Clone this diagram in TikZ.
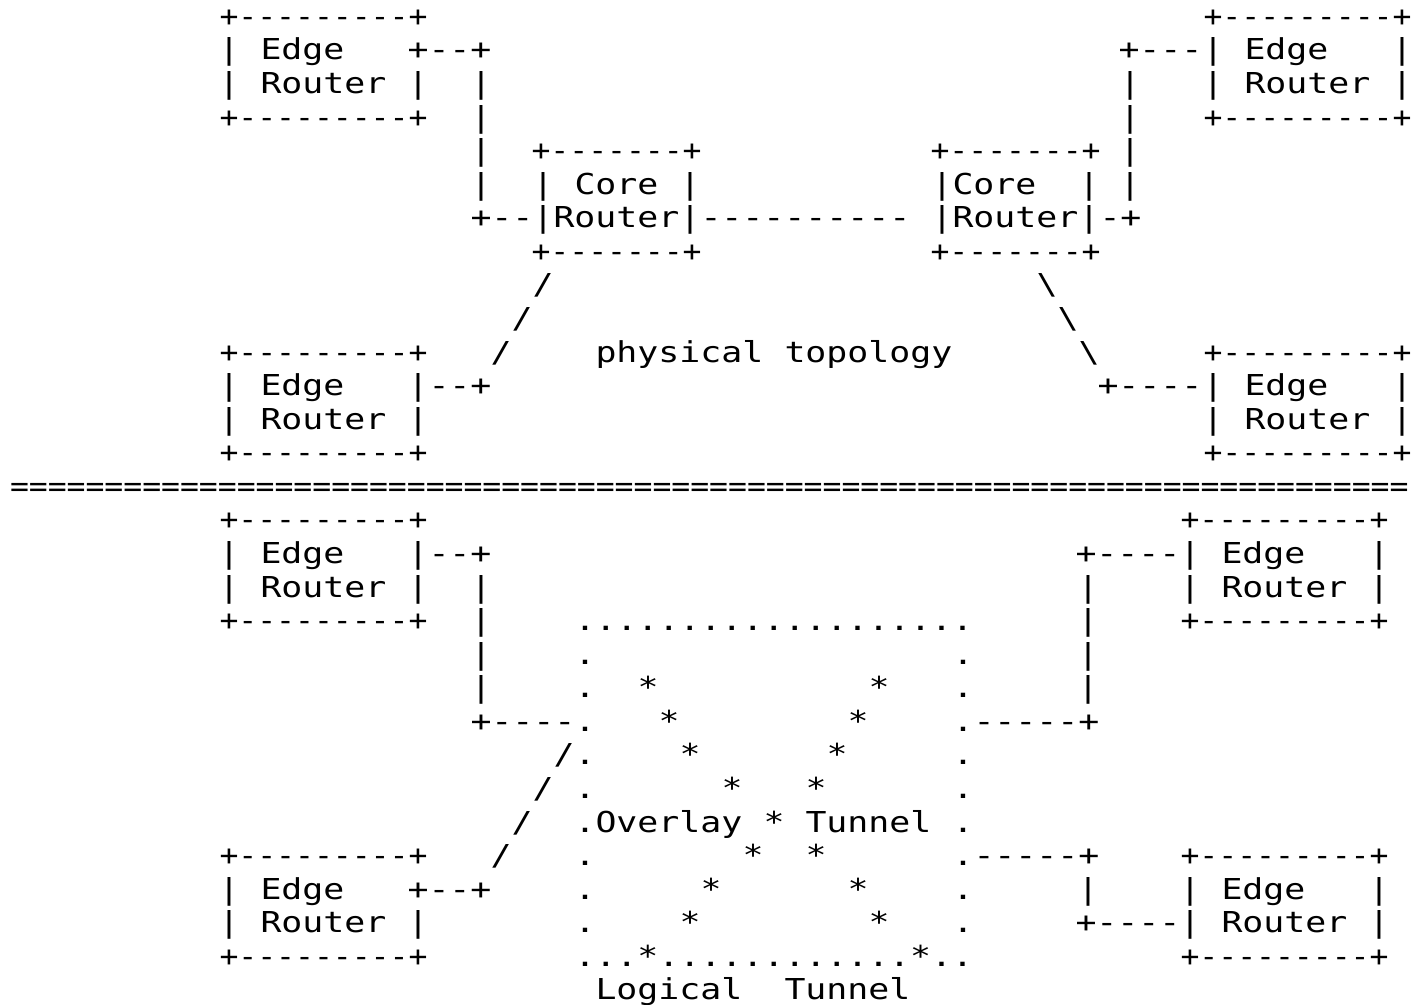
\documentclass[tikz,border=0pt]{standalone}
\usepackage{fontspec}
\newfontfamily\ascfont[FakeStretch=1.21]{DejaVu Sans Mono}
\newfontfamily\brdfont[FakeStretch=1.09]{DejaVu Sans Mono}
% baseline of text row #1
\newcommand\by[1]{26.4+33.57*(#1)}
\tikzset{
  asc/.style={inner sep=0pt, outer sep=0pt, anchor=base west,
    font=\ascfont\fontsize{28.8}{34}\selectfont},
  brd/.style={asc, font=\brdfont\fontsize{28.8}{34}\selectfont},
}
\begin{document}
\begin{tikzpicture}[x=1pt,y=-1pt]
\useasboundingbox (0,0) rectangle (1412,1004);

% edge routers: name/left bar/top row/right char of first line
\foreach \n/\x/\r/\c in {ea/229/0/+, eb/1213/0/|, ec/229/10/|, ed/1213/10/|,
    ee/229/15/|, ef/1190/15/|, eg/229/25/+, eh/1190/25/|} {
  \node[brd] (\n-t) at ({\x-9.45},{\by{\r}}) {+---------+};
  \node[asc] (\n-l1) at ({\x-10.5},{\by{\r+1}}) {|};
  \node[asc] (\n-w1) at ({\x+31.5},{\by{\r+1}}) {Edge};
  \node[asc] (\n-r1) at ({\x+178.5},{\by{\r+1}}) {\c};
  \node[asc] (\n-l2) at ({\x-10.5},{\by{\r+2}}) {|};
  \node[asc] (\n-w2) at ({\x+31.5},{\by{\r+2}}) {Router};
  \node[asc] (\n-r2) at ({\x+178.5},{\by{\r+2}}) {|};
  \node[brd] (\n-b) at ({\x-9.45},{\by{\r+3}}) {+---------+};
}

% core routers: name/left bar/cell of Core
\foreach \n/\x/\k in {ca/543/2, cb/942/1} {
  \node[brd] (\n-t) at ({\x-11.45},{\by{4}}) {+-------+};
  \node[asc] (\n-l1) at ({\x-10.5},{\by{5}}) {|};
  \node[asc] (\n-w1) at ({\x-10.5+21*\k},{\by{5}}) {Core};
  \node[asc] (\n-r1) at ({\x+136.5},{\by{5}}) {|};
  \node[asc] (\n-l2) at ({\x-10.5},{\by{6}}) {|};
  \node[asc] (\n-w2) at ({\x+10.5},{\by{6}}) {Router};
  \node[asc] (\n-r2) at ({\x+136.5},{\by{6}}) {|};
  \node[brd] (\n-b) at ({\x-11.45},{\by{7}}) {+-------+};
}

% physical links
\node[asc] (la1) at ({439-10.5},{\by{1}}) {--+};
\foreach \r in {2,...,5} \node[asc] (lv\r) at ({481-10.5},{\by{\r}}) {|};
\node[asc] (la6) at ({481-10.5},{\by{6}}) {+--};
\node[asc] (cc) at ({711-10.5},{\by{6}}) {----------};
\node[asc] (ra1) at ({1129-10.5},{\by{1}}) {+---};
\foreach \r in {2,...,5} \node[asc] (rv\r) at ({1130-10.5},{\by{\r}}) {|};
\node[asc] (ra6) at ({1110-10.5},{\by{6}}) {-+};
\foreach \r/\a/\b in {8/543/1047, 9/522/1068, 10/501/1089} {
  \node[asc] (sl\r) at ({\a-10.5},{\by{\r}}) {/};
  \node[asc] (bs\r) at ({\b-10.5},{\by{\r}}) {\textbackslash};
}
\node[asc] (la11) at ({439-10.5},{\by{11}}) {--+};
\node[asc] (ra11) at ({1108-10.5},{\by{11}}) {+----};
\node[asc] (phys) at ({606-10.5},{\by{10}}) {physical};
\node[asc] (topo) at ({795-10.5},{\by{10}}) {topology};

% divider
\node[brd] (sep) at (10,{\by{14}})
  {==========================================================================};

% logical links
\node[asc] (lb16) at ({439-10.5},{\by{16}}) {--+};
\foreach \r in {17,...,20} \node[asc] (lw\r) at ({481-10.5},{\by{\r}}) {|};
\node[asc] (lb21) at ({481-10.5},{\by{21}}) {+----};
\foreach \r/\a in {22/564, 23/543, 24/522, 25/501}
  \node[asc] (ls\r) at ({\a-10.5},{\by{\r}}) {/};
\node[asc] (lb26) at ({439-10.5},{\by{26}}) {--+};
\node[asc] (rb16) at ({1086-10.5},{\by{16}}) {+----};
\foreach \r in {17,...,20} \node[asc] (rw\r) at ({1088-10.5},{\by{\r}}) {|};
\node[asc] (rb21) at ({984-10.5},{\by{21}}) {-----+};
\node[asc] (rb25) at ({984-10.5},{\by{25}}) {-----+};
\node[asc] (rw26) at ({1088-10.5},{\by{26}}) {|};
\node[asc] (rb27) at ({1086-10.5},{\by{27}}) {+----};

% overlay tunnel
\node[asc] (ot) at ({585-10.5},{\by{18}}) {...................};
\foreach \r in {19,...,27} {
  \node[asc] (ol\r) at ({585-10.5},{\by{\r}}) {.};
  \node[asc] (or\r) at ({963-10.5},{\by{\r}}) {.};
}
\node[asc] (ob) at ({585-10.5},{\by{28}}) {...*............*..};
\foreach \r/\a/\b in {20/3/14, 21/4/13, 22/5/12, 23/7/11, 25/8/11, 26/6/13, 27/5/14} {
  \node[asc] (sa\r) at ({574.5+21*\a},{\by{\r}}) {*};
  \node[asc] (sb\r) at ({574.5+21*\b},{\by{\r}}) {*};
}
\node[asc] (ovl) at ({574.5+21},{\by{24}}) {Overlay};
\node[asc] (mid) at ({574.5+189},{\by{24}}) {*};
\node[asc] (tun) at ({574.5+231},{\by{24}}) {Tunnel};
\node[asc] (lgc) at ({574.5+21},{\by{29}}) {Logical};
\node[asc] (lgt) at ({574.5+210},{\by{29}}) {Tunnel};
\end{tikzpicture}
\end{document}
